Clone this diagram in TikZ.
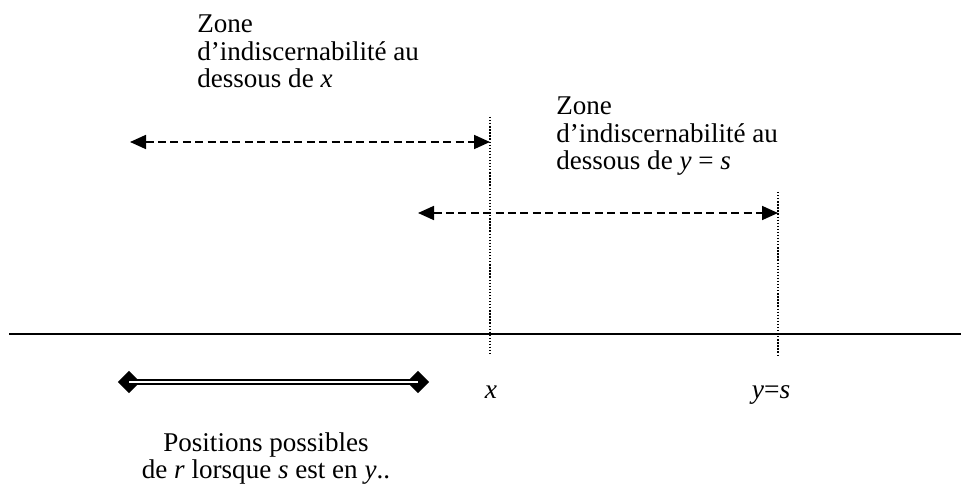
\documentclass[tikz,border=0pt]{standalone}
\usepackage{fontspec}
\setmainfont{Liberation Serif}
\usepackage{tikz}
\usetikzlibrary{shapes.geometric, arrows.meta, positioning}

\begin{document}
\begin{tikzpicture}[x=0.75pt, y=-0.75pt,
    zonetext/.style={inner sep=0pt, align=left, anchor=north west,
      font=\fontsize{20.3pt}{20.6pt}\selectfont},
    marktext/.style={inner sep=0pt, anchor=base,
      font=\fontsize{20.6pt}{20.6pt}\selectfont},
    zonearrow/.style={{Triangle[length=12pt,width=10.5pt]}-{Triangle[length=12pt,width=10.5pt]},
      line width=1.3pt, dash pattern=on 6pt off 3.3pt},
    tick/.style={line width=1pt, dash pattern=on 1pt off 1.3pt},
    endpoint/.style={diamond, fill=black, inner sep=0pt, minimum size=17pt}]
  \useasboundingbox (0,0) rectangle (961,488);
  %% axis and the two positions
  \coordinate (axl) at (9,334);
  \coordinate (axr) at (961,334);
  \draw[line width=1.4pt] (axl) -- (axr);
  \coordinate (xtop) at (490,117);
  \coordinate (xbot) at (490,355);
  \coordinate (ytop) at (778,192);
  \coordinate (ybot) at (778,355);
  \draw[tick] (xtop) -- (xbot);
  \draw[tick] (ytop) -- (ybot);
  \node[marktext] (xlbl) at (491,398) {\textit{x}};
  \node[marktext] (ylbl) at (771,398) {\textit{y}=\textit{s}};
  %% zones of indiscernability
  \coordinate (za) at (130,142);
  \coordinate (zb) at (490,142);
  \draw[zonearrow] (za) -- (zb);
  \node[zonetext] (zonex) at (197,15) {Zone\\d’indiscernabilité au\\dessous de \textit{x}};
  \coordinate (zc) at (418,213);
  \coordinate (zd) at (778,213);
  \draw[zonearrow] (zc) -- (zd);
  \node[zonetext] (zoney) at (556,97) {Zone\\d’indiscernabilité au\\dessous de \textit{y} = \textit{s}};
  %% possible positions of r
  \node[endpoint] (rl) at (129,382) {};
  \node[endpoint] (rr) at (418,382) {};
  \draw[double, line width=1.5pt, double distance=1.5pt] (rl.center) -- (rr.center);
  \node[zonetext, align=center, anchor=north] (rpos) at (266,432)
    {Positions possibles\\de \textit{r} lorsque \textit{s} est en \textit{y}..};
\end{tikzpicture}
\end{document}
